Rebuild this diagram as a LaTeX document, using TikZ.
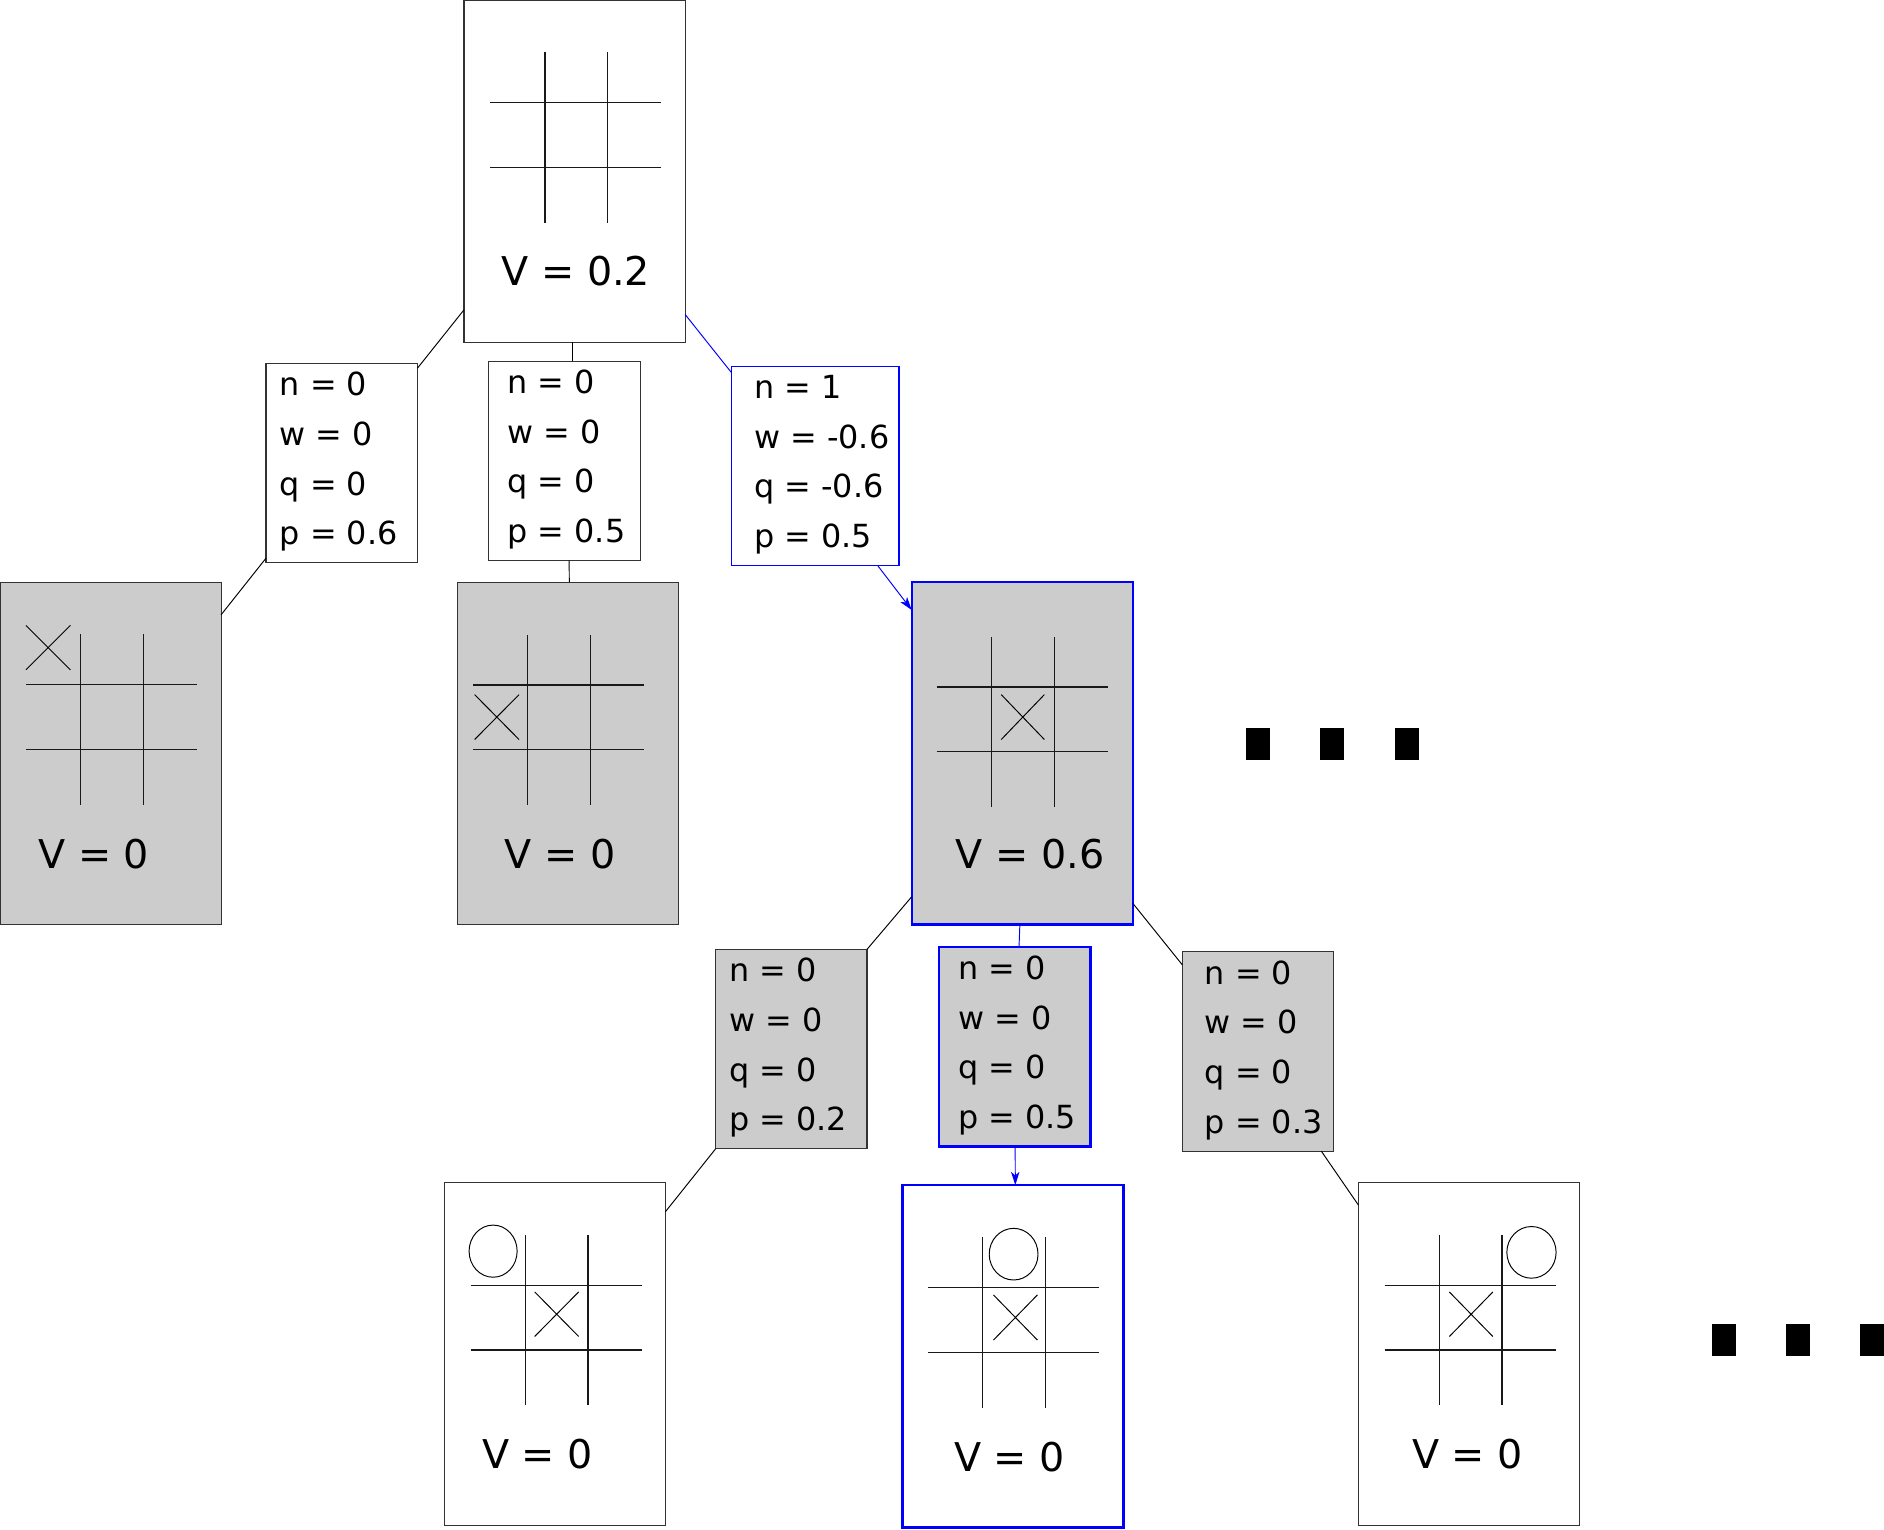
\documentclass[tikz,border=0pt]{standalone}
\usepackage{fontspec}
\setmainfont{DejaVu Sans}
\usetikzlibrary{arrows.meta}
\definecolor{boxgray}{HTML}{CCCCCC}
\definecolor{pureblue}{HTML}{0000FF}
\tikzset{
  board/.style={draw=black!80, line width=0.9pt, minimum width=184pt, minimum height=285pt, inner sep=0pt, outer sep=0pt, anchor=north west},
  grayboard/.style={board, fill=boxgray},
  hiborder/.style={draw=pureblue, line width=2pt},
  statbox/.style={draw=black!80, line width=0.9pt, minimum width=126pt, minimum height=166pt, inner sep=0pt, outer sep=0pt, anchor=north west},
  stattext/.style={font=\fontsize{26.5}{41.3}\selectfont, align=left, inner sep=0pt, anchor=west},
  vlabel/.style={font=\fontsize{33}{40}\selectfont, inner sep=0pt, anchor=base},
  gridline/.style={line width=1pt, draw=black!90},
  markline/.style={line width=0.8pt, draw=black},
  edge/.style={line width=0.8pt, draw=black},
  hiedge/.style={line width=0.8pt, draw=pureblue},
  hiarrow/.style={hiedge, -{Stealth[length=11pt, width=7pt, inset=3pt]}},
  dotbox/.style={fill=black},
}
% #1 node, #2/#3 grid offset, #4 label x, #5 label
\newcommand\tttgrid[5]{%
  \begin{scope}[shift={(#1.north west)}]
    \begin{scope}[shift={(#2,#3)}]
      \draw[gridline] (67.3,43.5) -- (67.3,185.3) (119.5,43.5) -- (119.5,185.3)
        (21.8,85.3) -- (164.3,85.3) (21.8,139.2) -- (164.3,139.2);
    \end{scope}
    \node[vlabel] (#1-v) at (#4,238) {#5};
  \end{scope}}
\newcommand\xmark[5]{%
  \begin{scope}[shift={(#1.north west)}]
    \draw[markline] (#2,#3) -- (#4,#5) (#2,#5) -- (#4,#3);
  \end{scope}}
\newcommand\omark[5]{%
  \begin{scope}[shift={(#1.north west)}]
    \draw[markline] (#2,#3) ellipse [x radius=#4, y radius=#5];
  \end{scope}}
\begin{document}
\begin{tikzpicture}[x=1pt, y=-1pt]
\useasboundingbox (0,0) rectangle (1568,1273);
% boards
\node[board] (root) at (386.2,0) {};
\node[grayboard] (L1) at (0,484.5) {};
\node[grayboard] (L2) at (381,484.5) {};
\node[grayboard, hiborder] (M) at (758.8,484.5) {};
\node[board] (B1) at (369.8,984.3) {};
\node[board, hiborder] (B2) at (751.2,986.3) {};
\node[board] (B3) at (1130.6,984.3) {};
% stat boxes
\node[statbox] (sA) at (221.4,302.4) {};
\node[statbox] (sB) at (406.8,300.5) {};
\node[statbox, draw=pureblue, minimum width=139.6pt] (sC) at (608.6,304.9) {};
\node[statbox, fill=boxgray] (sD) at (595.6,790.1) {};
\node[statbox, fill=boxgray, hiborder] (sE) at (781.5,788.2) {};
\node[statbox, fill=boxgray] (sF) at (984,792.1) {};
% stat texts
\node[stattext] (tA) at ([xshift=11.3pt, yshift=1pt]sA.west) {n = 0\\w = 0\\q = 0\\p = 0.6};
\node[stattext] (tB) at ([xshift=15.4pt, yshift=1pt]sB.west) {n = 0\\w = 0\\q = 0\\p = 0.5};
\node[stattext] (tC) at ([xshift=18.9pt, yshift=1pt]sC.west) {n = 1\\w = -0.6\\q = -0.6\\p = 0.5};
\node[stattext] (tD) at ([xshift=11.2pt, yshift=1pt]sD.west) {n = 0\\w = 0\\q = 0\\p = 0.2};
\node[stattext] (tE) at ([xshift=15.7pt, yshift=1pt]sE.west) {n = 0\\w = 0\\q = 0\\p = 0.5};
\node[stattext] (tF) at ([xshift=18.5pt, yshift=1pt]sF.west) {n = 0\\w = 0\\q = 0\\p = 0.3};
% grids and labels
\tttgrid{root}{0}{0}{93}{V = 0.2}
\tttgrid{L1}{0}{0}{78}{V = 0}
\tttgrid{L2}{-9}{0.3}{85}{V = 0}
\tttgrid{M}{-1}{2}{98.5}{V = 0.6}
\tttgrid{B1}{0}{0}{77.5}{V = 0}
\tttgrid{B2}{-0.5}{0}{89}{V = 0}
\tttgrid{B3}{0}{0}{90.8}{V = 0}
% marks
\xmark{L1}{21.6}{36}{58.6}{73}
\xmark{L2}{14}{93.6}{51}{131}
\xmark{M}{74.5}{93.6}{110.4}{131}
\xmark{B1}{75.2}{90.9}{111.8}{128}
\xmark{B2}{75.6}{91.4}{112.2}{129}
\xmark{B3}{75.7}{91}{111.8}{128}
\omark{B1}{40.6}{57}{20}{21.7}
\omark{B2}{92.4}{57.5}{20.3}{21.5}
\omark{B3}{144}{58}{20.5}{21.5}
% connectors
\draw[edge] (root) -- (sA);
\draw[edge] (sA) -- (L1);
\draw[edge] ([xshift=-2pt]root.south) -- ([xshift=6.4pt]sB.north);
\draw[edge] ([xshift=3.9pt]sB.south) -- ([xshift=0.8pt]L2.north);
\draw[hiedge] ([yshift=23.3pt]root.south east) -- ([yshift=-5pt]sC.north west);
\draw[hiarrow] ([xshift=-17.6pt]sC.south east) -- ([yshift=-23.2pt]M.north west);
\draw[edge] ([yshift=23.2pt]M.south west) -- (sD.north east);
\draw[edge] (sD.south west) -- ([yshift=-24.2pt]B1.north east);
\draw[hiedge] ([xshift=-2pt]M.south) -- ([xshift=3.6pt]sE.north);
\draw[hiarrow] ([xshift=0.4pt]sE.south) -- ([xshift=1.8pt]B2.north);
\draw[edge] ([yshift=17.7pt]M.south east) -- ([yshift=-10.9pt]sF.north west);
\draw[edge] ([xshift=-10.3pt]sF.south east) -- ([yshift=-18.7pt]B3.north west);
% ellipsis marks
\fill[dotbox] (1037.3,605.6) rectangle (1057.3,632.5);
\fill[dotbox] (1098.9,605.6) rectangle (1118.9,632.5);
\fill[dotbox] (1160.8,605.6) rectangle (1180.8,632.5);
\fill[dotbox] (1424.5,1102) rectangle (1444.7,1128.6);
\fill[dotbox] (1486.3,1102) rectangle (1506.5,1128.6);
\fill[dotbox] (1548.1,1102) rectangle (1568.4,1128.6);
\end{tikzpicture}
\end{document}
